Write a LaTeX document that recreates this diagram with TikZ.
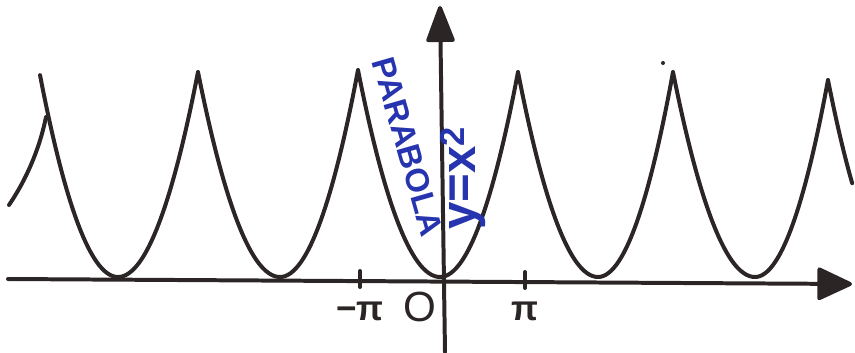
\documentclass[tikz,border=0pt]{standalone}
\usepackage{fontspec}
\usepackage{xcolor}
\usetikzlibrary{arrows.meta,positioning,calc}
\newfontfamily\handfont{Liberation Sans}
\definecolor{ink}{RGB}{43,37,37}
\definecolor{pen}{RGB}{38,52,175}

\begin{document}
\begin{tikzpicture}[x=0.03cm, y=-0.03cm, curve/.style={ink,line width=3.4pt,line cap=round,line join=round}, every node/.style={font=\handfont\bfseries}]
\useasboundingbox (0,0) rectangle (855,352);
\coordinate (xstart) at (8,279);
\coordinate (xend) at (852,284);
\coordinate (ystart) at (445,352);
\coordinate (yend) at (440,6);
\draw[curve,-{Triangle[length=32pt,width=29pt,round]}] (xstart)--(xend);
\draw[curve,-{Triangle[length=34pt,width=25pt,round]}] (ystart)--(yend);
\foreach \pl/\m/\pr/\hl/\hr in {40/118/198/75/72, 198/280/358/72/70, 358/440/518/70/72, 518/598/673/72/72, 673/755/828/72/80} {
  \draw[curve] plot[domain=0:1,smooth,samples=30] ({\m+\x*(\pl-\m)},{277-(277-\hl)*\x*\x});
  \draw[curve] plot[domain=0:1,smooth,samples=30] ({\m+\x*(\pr-\m)},{277-(277-\hr)*\x*\x});
}
\coordinate (leftend) at (9,205);
\coordinate (leftjoin) at (46,117);
\draw[curve] (leftend) .. controls (30,174) and (41,142) .. (leftjoin);
\draw[curve] plot[domain=0.69:1,smooth,samples=20] ({906-\x*78},{277-(277-80)*\x*\x});
\coordinate (mpi) at (360,279);
\coordinate (ppi) at (525,280);
\draw[curve] ($(mpi)+(0,-8)$)--($(mpi)+(0,8)$);
\draw[curve] ($(ppi)+(0,-8)$)--($(ppi)+(0,8)$);
\node[ink,font=\handfont\bfseries\fontsize{30}{30}\selectfont] (mlabel) at (360,311) {−π};
\node[ink,font=\handfont\fontsize{36}{36}\selectfont] (olabel) at (420,307) {O};
\node[ink,font=\handfont\bfseries\fontsize{30}{30}\selectfont] (plabel) at (525,311) {π};
\node[pen,rotate=-74,font=\handfont\bfseries\fontsize{28}{28}\selectfont] (para) at (408,147) {PARABOLA};
\node[pen,rotate=90,font=\handfont\bfseries\fontsize{42}{42}\selectfont] (eq) at (463,178) {y=x\textsuperscript{2}};
\fill[ink] (663,63) circle (2);
\end{tikzpicture}
\end{document}
